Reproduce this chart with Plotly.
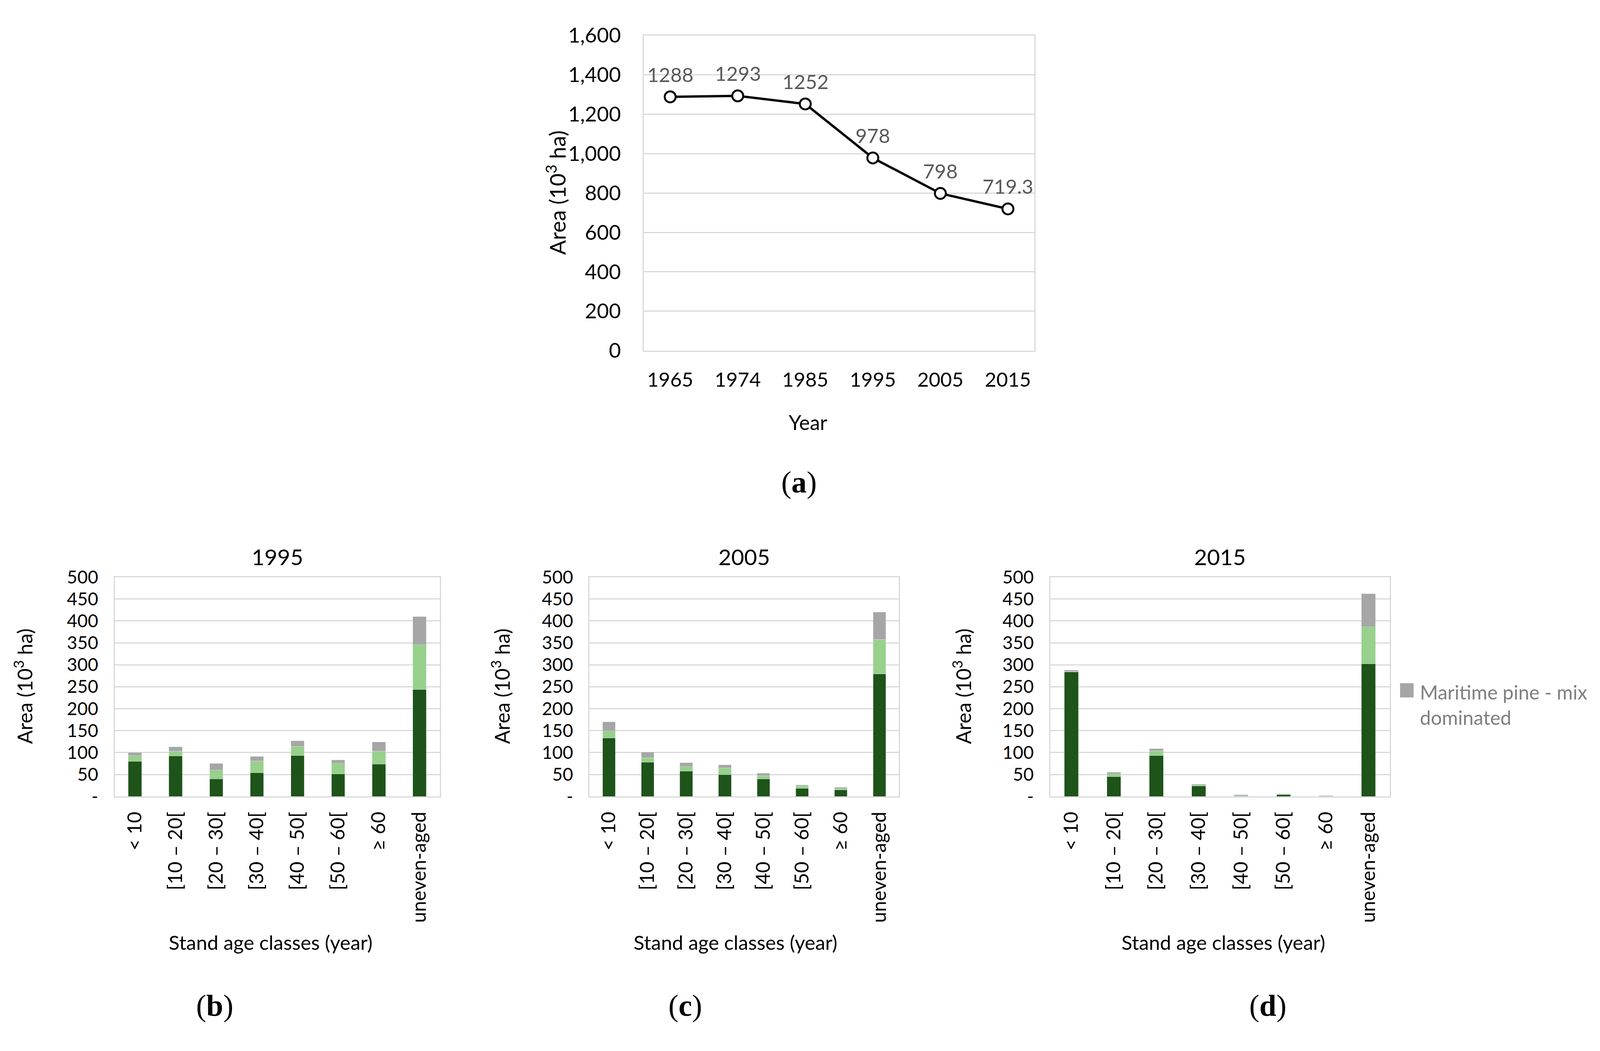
import plotly.graph_objects as go

# ---------------- data ----------------
years = ["1965", "1974", "1985", "1995", "2005", "2015"]
area_total = [1288, 1293, 1252, 978, 798, 719.3]
area_labels = ["1288", "1293", "1252", "978", "798", "719.3"]

age_classes = ["< 10", "[10 – 20[", "[20 – 30[", "[30 – 40[", "[40 – 50[",
               "[50 – 60[", "≥ 60", "uneven-aged"]

pure_1995 = [80, 92, 40, 54, 93, 51, 74, 244]
dom_1995 = [13, 11, 20, 27, 21, 24, 29, 102]
mix_1995 = [7, 10, 15, 10, 13, 8, 21, 64]

pure_2005 = [133, 78, 58, 50, 40, 18, 15, 279]
dom_2005 = [16, 10, 10, 15, 7, 6, 3, 79]
mix_2005 = [21, 13, 9, 7, 6, 2, 3, 62]

pure_2015 = [284, 45, 93, 24, 1, 4, 1, 302]
dom_2015 = [1, 6, 11, 2, 1, 1.5, 0.5, 85]
mix_2015 = [3, 4, 5, 2, 2, 0.5, 0.5, 75]

bar_ticks = [0, 50, 100, 150, 200, 250, 300, 350, 400, 450, 500]
bar_ticktext = ["-", "50", "100", "150", "200", "250", "300", "350", "400", "450", "500"]

panel_years = ["1995", "2005", "2015"]
panel_letters = ["(<b>b</b>)", "(<b>c</b>)", "(<b>d</b>)"]
legend_label = "Maritime pine - mix<br>dominated"

# ---------------- style ----------------
FONT = "Lato"
SERIF = "Liberation Serif"
C_PURE = "#1E5319"
C_DOM = "#97D18B"
C_MIX = "#A6A6A6"
GRID = "#D9D9D9"

fig = go.Figure()

# panel (a)
fig.add_trace(go.Scatter(
    x=years, y=area_total, mode="lines+markers",
    line=dict(color="black", width=6),
    marker=dict(size=28, color="white", line=dict(color="black", width=5)),
    xaxis="x", yaxis="y", showlegend=False))

panels = [
    (pure_1995, dom_1995, mix_1995),
    (pure_2005, dom_2005, mix_2005),
    (pure_2015, dom_2015, mix_2015),
]
for i, (p, d, m) in enumerate(panels):
    ax = str(i + 2)
    fig.add_trace(go.Bar(x=age_classes, y=p, name="Maritime pine - pure",
                         marker_color=C_PURE, xaxis="x" + ax, yaxis="y" + ax,
                         showlegend=False))
    fig.add_trace(go.Bar(x=age_classes, y=d, name="Maritime pine - dominant",
                         marker_color=C_DOM, xaxis="x" + ax, yaxis="y" + ax,
                         showlegend=False))
    fig.add_trace(go.Bar(x=age_classes, y=m, name="Maritime pine - mix dominated",
                         marker_color=C_MIX, xaxis="x" + ax, yaxis="y" + ax,
                         showlegend=False))

axis_common = dict(showline=True, linecolor=GRID, linewidth=3, mirror=True,
                   showgrid=False, zeroline=False)

layout = dict(
    autosize=True, margin=dict(l=0, r=0, t=0, b=0),
    paper_bgcolor="white", plot_bgcolor="white",
    barmode="stack", bargap=0.67, showlegend=False,
    font=dict(family=FONT, color="black"),
)

layout["xaxis"] = dict(axis_common, domain=[0.402, 0.647], anchor="y",
                       type="category", ticks="", ticklabelstandoff=28,
                       tickfont=dict(family=FONT, size=51, color="black"))
layout["yaxis"] = dict(axis_common, domain=[0.672, 0.981], anchor="x",
                       range=[0, 1600], dtick=200, tickformat=",",
                       showgrid=True, gridcolor=GRID, gridwidth=3,
                       ticks="", ticklabelstandoff=45,
                       tickfont=dict(family=FONT, size=53, color="black"))

bar_domains = [[0.070, 0.274], [0.368, 0.562], [0.657, 0.870]]
for i, dom in enumerate(bar_domains):
    ax = str(i + 2)
    layout["xaxis" + ax] = dict(axis_common, domain=dom, anchor="y" + ax,
                                type="category", tickangle=-90, ticks="",
                                ticklabelstandoff=16,
                                tickfont=dict(family=FONT, size=50, color="black"))
    layout["yaxis" + ax] = dict(axis_common, domain=[0.235, 0.450], anchor="x" + ax,
                                range=[0, 500], tickvals=bar_ticks, ticktext=bar_ticktext,
                                showgrid=True, gridcolor=GRID, gridwidth=3,
                                ticks="", ticklabelstandoff=30,
                                tickfont=dict(family=FONT, size=46, color="black"))


def ann(x, y, text, size, color="black", family=FONT, **kw):
    d = dict(x=x, y=y, xref="paper", yref="paper", text=text, showarrow=False,
             xanchor="center", yanchor="middle",
             font=dict(family=family, size=size, color=color))
    d.update(kw)
    return d


annotations = []
# data labels panel (a) (category index positions)
for idx, (v, lab) in enumerate(zip(area_total, area_labels)):
    annotations.append(dict(x=idx, y=v, xref="x", yref="y", text=lab, showarrow=False,
                            xanchor="center", yanchor="middle", yshift=58,
                            font=dict(family=FONT, size=51, color="#595959")))
annotations.append(ann(0.347, 0.827, "Area (10<sup>3</sup> ha)", 56, textangle=-90))
annotations.append(ann(0.505, 0.602, "Year", 52))
annotations.append(ann(0.4994, 0.543, "(<b>a</b>)", 78, family=SERIF))

ytitle_x = [0.0125, 0.312, 0.6015]
xtitle_x = [0.168, 0.4596, 0.7657]
letter_x = [0.1327, 0.428, 0.7935]
for i, dom in enumerate(bar_domains):
    cx = (dom[0] + dom[1]) / 2
    annotations.append(ann(cx, 0.470, panel_years[i], 57))
    annotations.append(ann(ytitle_x[i], 0.343, "Area (10<sup>3</sup> ha)", 52, textangle=-90))
    annotations.append(ann(xtitle_x[i], 0.092, "Stand age classes (year)", 51))
    annotations.append(ann(letter_x[i], 0.030, panel_letters[i], 78, family=SERIF))

# legend (only the entry visible in the figure)
annotations.append(ann(0.8885, 0.325, legend_label, 50, color="#7F7F7F",
                       xanchor="left", align="left"))
layout["annotations"] = annotations
layout["shapes"] = [dict(type="rect", xref="paper", yref="paper",
                         x0=0.8765, x1=0.8850, y0=0.332, y1=0.346,
                         fillcolor=C_MIX, line=dict(width=0))]

fig.update_layout(layout)
fig.write_html("out.html", config={"responsive": True})
